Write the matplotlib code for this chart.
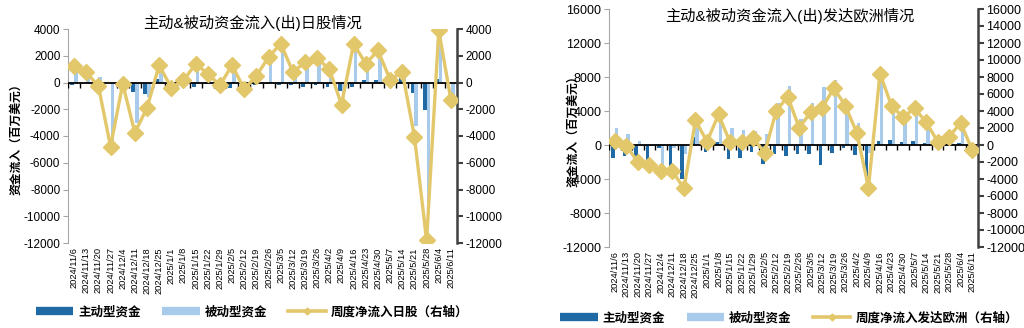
import matplotlib
matplotlib.use("Agg")
import matplotlib.pyplot as plt
import numpy as np
from matplotlib.lines import Line2D

plt.rcParams["font.family"] = ["Liberation Sans", "Noto Sans CJK SC"]
plt.rcParams["axes.unicode_minus"] = False

dates = [
    "2024/11/6", "2024/11/13", "2024/11/20", "2024/11/27", "2024/12/4", "2024/12/11",
    "2024/12/18", "2024/12/25", "2025/1/1", "2025/1/8", "2025/1/15", "2025/1/22",
    "2025/1/29", "2025/2/5", "2025/2/12", "2025/2/19", "2025/2/26", "2025/3/5",
    "2025/3/12", "2025/3/19", "2025/3/26", "2025/4/2", "2025/4/9", "2025/4/16",
    "2025/4/23", "2025/4/30", "2025/5/7", "2025/5/14", "2025/5/21", "2025/5/28",
    "2025/6/4", "2025/6/11",
]

# Japan (million USD)
jp_active = [-200, -50, -650, -50, -50, -700, -850, 250, -50, 50, -300, -100, -50, -400, -50, -200,
             -100, -150, -200, -350, -150, -300, -600, -300, 150, 200, 50, 300, -800, -2050, 250, -50]
jp_passive = [1400, 800, 400, -4750, -50, -3050, -1050, 1050, -350, 100, 1700, 750, -150, 1700, -450, 700,
              2000, 3050, 1000, 1850, 1950, 1300, -1050, 3100, 1250, 2200, 150, 500, -3250, -9750, 3650, -1250]
jp_net = [1200, 750, -250, -4800, -100, -3750, -1900, 1300, -400, 150, 1400, 650, -200, 1300, -500, 500,
          1900, 2900, 800, 1500, 1800, 1000, -1650, 2900, 1400, 2400, 200, 800, -4050, -11800, 3900, -1300]

# Developed Europe (million USD)
eu_active = [-1500, -1300, -2500, -2300, -400, -2700, -4000, 900, -800, 300, -1700, -1500, -800, -2200, -1000, -1300,
             -1000, -1000, -2400, -900, -400, -1200, -4100, 500, 600, 300, 500, 200, 100, 50, 200, -50]
eu_passive = [2000, 1300, 500, -100, -2650, -400, -1100, 2000, 1200, 3300, 2000, 1800, 1600, 1300, 5000, 7000,
              3050, 4950, 6800, 7650, 5000, 2550, -900, 7900, 4000, 3000, 3800, 2500, 300, 950, 2400, -550]
eu_net = [500, -100, -2000, -2400, -3050, -3100, -5100, 2900, 400, 3600, 300, 300, 800, -900, 4000, 5700,
          2000, 3900, 4400, 6700, 4600, 1400, -5000, 8400, 4600, 3300, 4300, 2700, 400, 1000, 2600, -600]

DARK = "#1f6aa5"
LIGHT = "#a9cbeb"
GOLD = "#e3c76b"
GRAY = "#a6a6a6"
SPINE = "#404040"


def draw_panel(ax, active, passive, net, ylim, lticks, rticks, tick_fs, ylabel_pad):
    x = np.arange(len(dates))
    ax.bar(x - 0.15, active, width=0.3, color=DARK, zorder=2)
    ax.bar(x + 0.15, passive, width=0.3, color=LIGHT, zorder=2)
    ax.axhline(0, color="black", lw=1.3, zorder=3)
    bounds = np.arange(len(dates) + 1) - 0.5
    ax.plot(bounds, np.zeros(len(bounds)), ls="none", marker=3, ms=3.5, mew=1,
            color="black", zorder=3)
    ax.set_xlim(-0.5, len(dates) - 0.5)
    ax.set_ylim(*ylim)
    ax.set_yticks(lticks)
    ax.set_xticks(x)
    ax.set_xticklabels(dates, rotation=90, fontsize=6.7)
    ax.tick_params(axis="x", length=0, pad=3)
    ax.tick_params(axis="y", length=3.5, color=GRAY, labelsize=tick_fs, pad=2)
    for s in ["top", "bottom", "right"]:
        ax.spines[s].set_visible(False)
    ax.spines["left"].set_color(GRAY)
    ax.set_ylabel("资金流入（百万美元）", fontsize=8.5, fontweight="bold", labelpad=ylabel_pad)

    ax2 = ax.twinx()
    ax2.plot(x, net, color=GOLD, lw=2.4, marker="D", ms=8, zorder=4)
    ax2.set_ylim(*ylim)
    ax2.set_yticks(rticks)
    ax2.tick_params(axis="y", length=4, width=1.5, color=SPINE, labelsize=tick_fs, pad=2)
    for s in ["top", "bottom", "left"]:
        ax2.spines[s].set_visible(False)
    ax2.spines["right"].set_color(SPINE)
    ax2.spines["right"].set_linewidth(1.8)
    return ax2


fig = plt.figure(figsize=(10.24, 3.28), dpi=100)

ax_jp = fig.add_axes([68 / 1024, 1 - 243 / 328, 389 / 1024, 214 / 328])
draw_panel(ax_jp, jp_active, jp_passive, jp_net, (-12000, 4000),
           np.arange(-12000, 4001, 2000), np.arange(-12000, 4001, 2000), 8.5, 1)

ax_eu = fig.add_axes([609 / 1024, 1 - 247 / 328, 369 / 1024, 238 / 328])
draw_panel(ax_eu, eu_active, eu_passive, eu_net, (-12000, 16000),
           np.arange(-12000, 16001, 4000), np.arange(-12000, 16001, 2000), 9, -12)

fig.text(252 / 1024, 1 - 23 / 328, "主动&被动资金流入(出)日股情况", ha="center", va="center", fontsize=11)
fig.text(790 / 1024, 1 - 16 / 328, "主动&被动资金流入(出)发达欧洲情况", ha="center", va="center", fontsize=11)


def legend_handles():
    return [
        Line2D([], [], color=DARK, lw=6, solid_capstyle="butt"),
        Line2D([], [], color=LIGHT, lw=6, solid_capstyle="butt"),
        Line2D([], [], color=GOLD, lw=2.6, marker="D", ms=3.5),
    ]


legend_kw = dict(loc="center", ncol=3, frameon=False, prop=dict(size=9, weight="bold"),
                 handlelength=3.0, columnspacing=1.7, handletextpad=0.4)
fig.legend(legend_handles(), ["主动型资金", "被动型资金", "周度净流入日股（右轴）"],
           bbox_to_anchor=(252 / 1024, 1 - 312 / 328), **legend_kw)
fig.legend(legend_handles(), ["主动型资金", "被动型资金", "周度净流入发达欧洲（右轴）"],
           bbox_to_anchor=(789 / 1024, 1 - 318 / 328), **legend_kw)

fig.savefig("out.png", dpi=100)
